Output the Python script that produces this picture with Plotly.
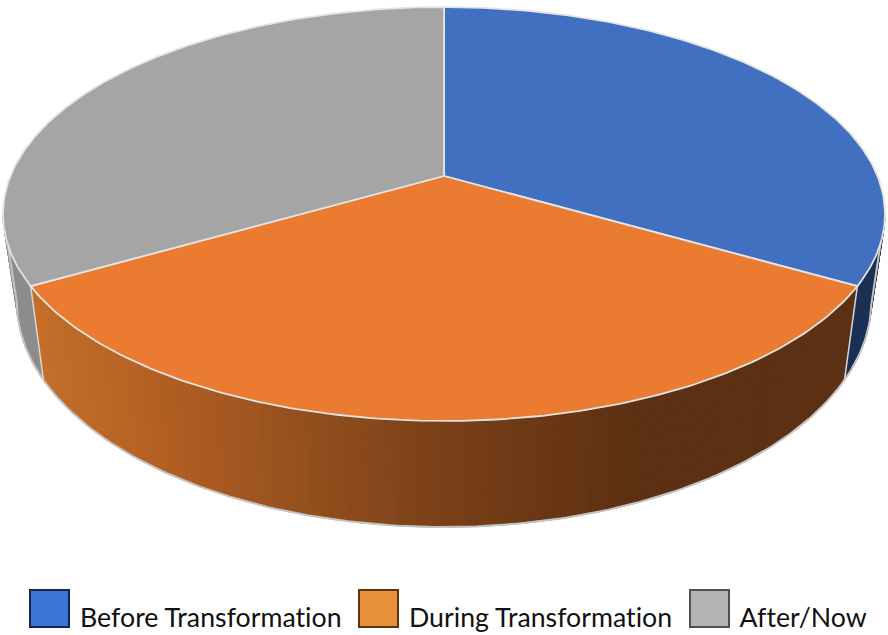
import numpy as np
import plotly.graph_objects as go

categories = ["Before Transformation", "During Transformation", "After/Now"]
values = [33.3, 33.3, 33.3]
top_colors = ["#4170C0", "#EA7B30", "#A5A5A5"]
legend_colors = ["#3B76D6", "#E6913A", "#B3B3B3"]
legend_borders = ["#14264A", "#5A3510", "#505050"]
legend_x = [30, 359, 690]
label_x = [78, 407, 738]

W, H = 888, 635
CX, CY = 444, 176
K = 0.1836
TOP_A, TOP_B = 200, 433.5
BOT_Y, BOT_A, BOT_B = 260, 218, 420
FRONT_L, FRONT_R = 0.559 * np.pi, 1.441 * np.pi


def project(theta, y0, a, b):
    u, v = np.sin(theta), -np.cos(theta)
    s = 1 / (1 - K * v)
    return CX + b * u * s, y0 + a * v * s


def top(theta):
    return project(theta, CY, TOP_A, TOP_B)


def bottom(theta):
    return project(theta, BOT_Y, BOT_A, BOT_B)


def lerp_hex(stops, x):
    xs = [p[0] for p in stops]
    rgb = [np.interp(x, xs, [p[1][i] for p in stops]) for i in range(3)]
    return "rgb(%d,%d,%d)" % tuple(int(round(c)) for c in rgb)


wall_ramp = [
    [(0, (200, 114, 44)), (130, (184, 98, 36)), (300, (148, 80, 30)), (440, (122, 64, 24)),
     (560, (104, 54, 20)), (640, (92, 48, 18)), (888, (92, 48, 18))],
    [(0, (26, 47, 84)), (888, (26, 47, 84))],
    [(0, (140, 140, 140)), (888, (140, 140, 140))],
]

fracs = np.array(values) / sum(values)
edges = np.concatenate([[0], np.cumsum(fracs)]) * 2 * np.pi

fig = go.Figure()

# side walls, one slice at a time, as narrow strips so the shading can vary
ramp_by_slice = {0: wall_ramp[1], 1: wall_ramp[0], 2: wall_ramp[2]}
for i in [0, 2, 1]:
    lo = max(edges[i], FRONT_L)
    hi = min(edges[i + 1], FRONT_R)
    n = 110 if i == 1 else 14
    ts = np.linspace(lo, hi, n + 1)
    for t0, t1 in zip(ts[:-1], ts[1:]):
        tx0, ty0 = top(t0)
        tx1, ty1 = top(t1)
        bx0, by0 = bottom(t0)
        bx1, by1 = bottom(t1)
        c = lerp_hex(ramp_by_slice[i], (tx0 + tx1) / 2)
        fig.add_trace(go.Scatter(
            x=[tx0, tx1, bx1, bx0, tx0], y=[ty0, ty1, by1, by0, ty0],
            mode="lines", fill="toself", fillcolor=c, line=dict(color=c, width=1),
            hoverinfo="skip", showlegend=False))

# soft outline along the base of the wall
ts = np.linspace(FRONT_L, FRONT_R, 200)
bx, by = bottom(ts)
ex0, ey0 = top(FRONT_L)
ex1, ey1 = top(FRONT_R)
fig.add_trace(go.Scatter(x=np.concatenate([[ex0], bx, [ex1]]), y=np.concatenate([[ey0], by, [ey1]]),
                         mode="lines", line=dict(color="#C4C4C4", width=2),
                         hoverinfo="skip", showlegend=False))

# seams between the walls
for e in [edges[1], edges[2]]:
    tx, ty = top(e)
    bx, by = bottom(e)
    fig.add_trace(go.Scatter(x=[tx, bx], y=[ty, by], mode="lines",
                             line=dict(color="#D8D8D8", width=1.5),
                             hoverinfo="skip", showlegend=False))

# top faces
for i, name in enumerate(categories):
    ts = np.linspace(edges[i], edges[i + 1], 160)
    x, y = top(ts)
    fig.add_trace(go.Scatter(
        x=np.concatenate([[CX], x, [CX]]), y=np.concatenate([[CY], y, [CY]]),
        mode="lines", fill="toself", fillcolor=top_colors[i],
        line=dict(color="#E4E4E4", width=1.8), name=name, showlegend=False))

# legend
shapes, annotations = [], []
for i, name in enumerate(categories):
    shapes.append(dict(type="rect", xref="x", yref="y",
                       x0=legend_x[i], x1=legend_x[i] + 39, y0=590, y1=627,
                       fillcolor=legend_colors[i],
                       line=dict(color=legend_borders[i], width=2)))
    annotations.append(dict(x=label_x[i], y=617, xref="x", yref="y", text=name,
                            showarrow=False, xanchor="left", yanchor="middle",
                            font=dict(family="Lato", size=26.7, color="#111111")))

fig.update_layout(
    width=W, height=H, margin=dict(l=0, r=0, t=0, b=0),
    paper_bgcolor="white", plot_bgcolor="white", showlegend=False,
    xaxis=dict(range=[0, W], visible=False, fixedrange=True),
    yaxis=dict(range=[H, 0], visible=False, fixedrange=True),
    shapes=shapes, annotations=annotations,
)
post = ("document.body.style.margin='0';document.body.style.overflow='hidden';"
        "var s=document.createElement('style');"
        "s.textContent='svg text{font-variant-ligatures:none!important;"
        "font-feature-settings:\"liga\" 0,\"clig\" 0,\"dlig\" 0!important;letter-spacing:0.02px!important}';"
        "document.head.appendChild(s);")
fig.write_html("out.html", config=dict(displayModeBar=False), post_script=post)
